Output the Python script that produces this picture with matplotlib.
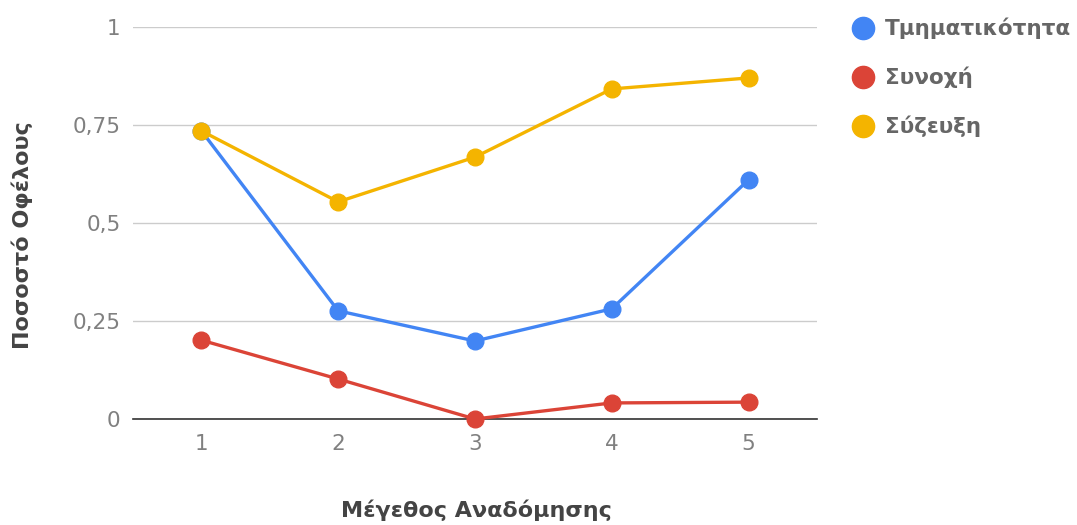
import matplotlib.pyplot as plt
from matplotlib.lines import Line2D

plt.rcParams['font.family'] = ['DejaVu Sans']

sizes = [1, 2, 3, 4, 5]
modularity = [0.735, 0.276, 0.199, 0.281, 0.61]
cohesion = [0.201, 0.102, 0.0, 0.041, 0.043]
coupling = [0.735, 0.554, 0.668, 0.842, 0.87]
names = ['Τμηματικότητα', 'Συνοχή', 'Σύζευξη']
colors = ['#4285F4', '#DB4437', '#F4B400']
yticks = [0, 0.25, 0.5, 0.75, 1]
ytick_labels = ['0', '0,25', '0,5', '0,75', '1']

fig = plt.figure(figsize=(10.77, 5.25), dpi=100)
ax = fig.add_axes([0.1235, 0.2019, 0.635, 0.7467])

series = [modularity, cohesion, coupling]
for vals, col in zip(series, colors):
	ax.plot(sizes, vals, color=col, lw=2.4, marker='o', ms=12, mec=col, clip_on=False, zorder=3)

ax.set_xlim(0.5, 5.5)
ax.set_ylim(0, 1)
ax.set_yticks(yticks)
ax.set_yticklabels(ytick_labels)
ax.set_xticks(sizes)
ax.grid(True, axis='y', color='#cccccc', lw=1)
ax.set_axisbelow(True)
for s in ['top', 'right', 'left']:
	ax.spines[s].set_visible(False)
ax.spines['bottom'].set_color('#333333')
ax.spines['bottom'].set_linewidth(1.2)
ax.tick_params(length=0, labelsize=15.5, colors='#808080')
ax.tick_params(axis='x', pad=11)
ax.tick_params(axis='y', pad=9)
ax.set_xlabel('Μέγεθος Αναδόμησης', fontsize=16, fontweight='bold', color='#444444')
ax.set_ylabel('Ποσοστό Οφέλους', fontsize=16, fontweight='bold', color='#444444')
ax.xaxis.set_label_coords(0.5015, -0.205)
ax.yaxis.set_label_coords(-0.146, 0.469)

# legend on the right
for i, (name, col) in enumerate(zip(names, colors)):
	yy = 1 - (28 + 49 * i) / 525
	fig.add_artist(Line2D([863 / 1077], [yy], marker='o', ms=16, color=col, transform=fig.transFigure))
	fig.text(885 / 1077, yy, name, fontsize=15.5, fontweight='bold', color='#666666', va='center')

fig.savefig('out.png', dpi=100)
